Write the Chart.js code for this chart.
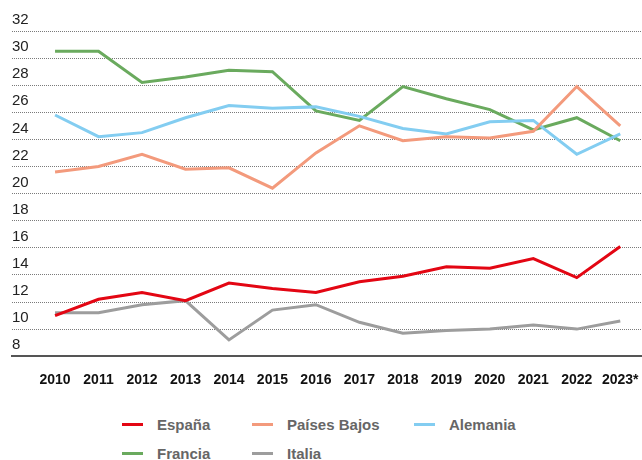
<!DOCTYPE html>
<html>
<head>
<meta charset="utf-8">
<script src="https://cdn.jsdelivr.net/npm/chart.js@4.4.1/dist/chart.umd.min.js"></script>
<style>
    html, body { margin: 0; padding: 0; background: #fff; }
    #wrap { position: relative; width: 642px; height: 460px; overflow: hidden; }
    #chartBox { position: absolute; left: 0; top: 0; width: 642px; height: 405px; }
    #legend {
        position: absolute; left: 122px; top: 412px;
        display: grid; grid-template-columns: 130px 162px 160px; row-gap: 5px;
        font-family: "Liberation Sans", Arial, sans-serif; font-weight: bold; font-size: 15px; color: #666;
    }
    .item { display: flex; align-items: center; height: 24px; }
    .swatch { width: 21px; height: 3px; margin-right: 14px; }
</style>
</head>
<body>
<div id="wrap">
    <div id="chartBox"><canvas id="lineChart"></canvas></div>
    <div id="legend"></div>
</div>
<script>
const years = [2010, 2011, 2012, 2013, 2014, 2015, 2016, 2017, 2018, 2019, 2020, 2021, 2022, 2023];
const yearLabels = ['2010', '2011', '2012', '2013', '2014', '2015', '2016', '2017', '2018', '2019', '2020', '2021', '2022', '2023*'];

const espana = [11.0, 12.2, 12.7, 12.1, 13.4, 13.0, 12.7, 13.5, 13.9, 14.6, 14.5, 15.2, 13.8, 16.1];
const paisesBajos = [21.6, 22.0, 22.9, 21.8, 21.9, 20.4, 23.0, 25.0, 23.9, 24.2, 24.1, 24.6, 27.9, 25.0];
const alemania = [25.8, 24.2, 24.5, 25.6, 26.5, 26.3, 26.4, 25.7, 24.8, 24.4, 25.3, 25.4, 22.9, 24.4];
const francia = [30.5, 30.5, 28.2, 28.6, 29.1, 29.0, 26.1, 25.4, 27.9, 27.0, 26.2, 24.7, 25.6, 23.9];
const italia = [11.2, 11.2, 11.8, 12.1, 9.2, 11.4, 11.8, 10.5, 9.7, 9.9, 10.0, 10.3, 10.0, 10.6];

const yTicks = [8, 10, 12, 14, 16, 18, 20, 22, 24, 26, 28, 30, 32];

const toPoints = (vals) => vals.map((v, i) => ({ x: years[i], y: v }));

const series = [
    { label: 'España', data: espana, color: '#e30613' },
    { label: 'Países Bajos', data: paisesBajos, color: '#f39a7c' },
    { label: 'Alemania', data: alemania, color: '#83cdf1' },
    { label: 'Francia', data: francia, color: '#6aaa5e' },
    { label: 'Italia', data: italia, color: '#9d9d9d' }
];

const chart = new Chart(document.getElementById('lineChart'), {
    type: 'line',
    data: {
        datasets: series.map(s => ({
            label: s.label,
            data: toPoints(s.data),
            borderColor: s.color,
            backgroundColor: s.color,
            borderWidth: 3,
            pointRadius: 0,
            tension: 0,
            fill: false
        }))
    },
    options: {
        responsive: true,
        maintainAspectRatio: false,
        animation: false,
        layout: { padding: { left: 12, top: 31, right: 0, bottom: 0 } },
        plugins: { legend: { display: false }, tooltip: { enabled: false } },
        scales: {
            x: {
                type: 'linear',
                min: 2009.01,
                max: 2023.5,
                afterBuildTicks: (axis) => { axis.ticks = years.map(y => ({ value: y })); },
                afterFit: (axis) => { axis.paddingLeft = 0; axis.paddingRight = 0; },
                grid: { display: false, drawTicks: false },
                border: { display: true, color: '#555', width: 2 },
                ticks: {
                    padding: 16,
                    color: '#111',
                    font: { family: 'Liberation Sans', size: 14, weight: 'bold' },
                    callback: (v) => yearLabels[years.indexOf(v)]
                }
            },
            y: {
                min: 8,
                max: 32,
                afterBuildTicks: (axis) => { axis.ticks = yTicks.map(v => ({ value: v })); },
                border: { display: false, dash: [1, 1] },
                grid: {
                    drawTicks: false,
                    color: (ctx) => ctx.tick && ctx.tick.value === 8 ? 'rgba(0,0,0,0)' : '#7a7a7a',
                    lineWidth: 1
                },
                ticks: {
                    mirror: true,
                    padding: 0,
                    labelOffset: -11,
                    color: '#222',
                    font: { family: 'Liberation Sans', size: 15 }
                }
            }
        }
    }
});

const legendBox = document.getElementById('legend');
chart.data.datasets.forEach(ds => {
    const item = document.createElement('div');
    item.className = 'item';
    item.innerHTML = `<span class="swatch" style="background:${ds.borderColor}"></span><span>${ds.label}</span>`;
    legendBox.appendChild(item);
});
</script>
</body>
</html>
